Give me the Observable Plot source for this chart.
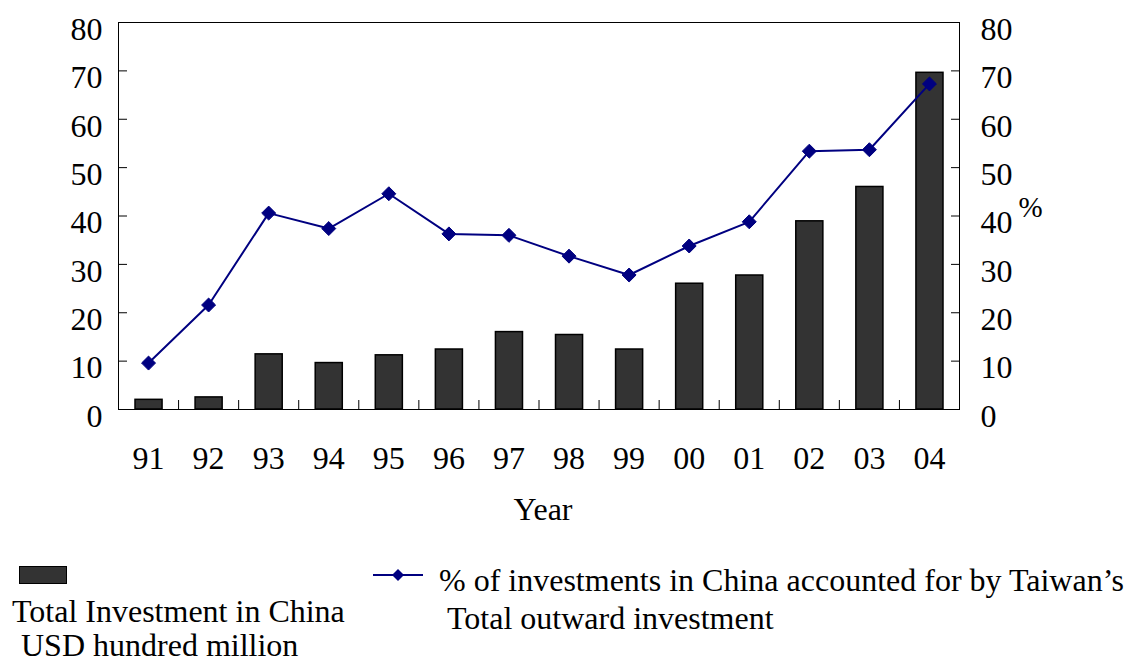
<!DOCTYPE html>
<html>
<head>
<meta charset="utf-8">
<script src="https://cdn.jsdelivr.net/npm/d3@7"></script>
<script src="https://cdn.jsdelivr.net/npm/@observablehq/plot@0.6"></script>
<style>
  html, body { margin: 0; padding: 0; background: #fff; }
  #wrap { position: relative; width: 1139px; height: 666px; font-family: "Liberation Serif", "Times New Roman", serif; color: #000; overflow: hidden; }
  .lg { position: absolute; font-size: 32px; line-height: 28px; white-space: nowrap; }
</style>
</head>
<body>
<div id="wrap"></div>
<script>
const years = ["91","92","93","94","95","96","97","98","99","00","01","02","03","04"];
const invest = [2.0, 2.5, 11.4, 9.6, 11.2, 12.4, 16.0, 15.4, 12.4, 26.0, 27.7, 38.9, 46.0, 69.6];
const pct = [9.6, 21.6, 40.6, 37.4, 44.6, 36.3, 36.0, 31.7, 27.8, 33.8, 38.8, 53.4, 53.7, 67.3];
const yTickLabels = [0, 10, 20, 30, 40, 50, 60, 70, 80];
const yTickMarks = [10, 20, 30, 40, 50, 60, 70];
const legendBar = ["Total Investment in China", "USD hundred million"];
const legendLine = ["% of investments in China accounted for by Taiwan\u2019s", "Total outward investment"];

const data = years.map((y, i) => ({i, year: y, invest: invest[i], pct: pct[i]}));
const navy = "#000080";

const chart = Plot.plot({
  width: 1139,
  height: 540,
  marginLeft: 118,
  marginRight: 180,
  marginTop: 22,
  marginBottom: 131,
  x: {type: "linear", domain: [-0.5, years.length - 0.5], axis: null},
  y: {domain: [0, 80], axis: null, label: null},
  style: {fontFamily: "'Liberation Serif', 'Times New Roman', serif", fontSize: "32px", color: "black", background: "white"},
  marks: [
    Plot.rectY(data, {x1: d => d.i - 0.5, x2: d => d.i + 0.5, y: "invest", insetLeft: 17, insetRight: 16,
      fill: "#333333", stroke: "black", strokeWidth: 1.5}),
    Plot.line(data, {x: "i", y: "pct", stroke: navy, strokeWidth: 2}),
    Plot.dot(data, {x: "i", y: "pct", symbol: "diamond2", r: 6.3, fill: navy, stroke: navy, strokeWidth: 1}),
    Plot.frame({stroke: "black", strokeWidth: 1}),
    // inner tick marks
    Plot.axisY(yTickMarks, {anchor: "left", tickSize: 9, insetLeft: 9, tickFormat: () => "", label: null}),
    Plot.axisY(yTickMarks, {anchor: "right", tickSize: 9, insetRight: 9, tickFormat: () => "", label: null}),
    Plot.axisX(d3.range(years.length - 1).map(i => i + 0.5), {anchor: "bottom", tickSize: 9, insetBottom: 9, tickFormat: () => "", label: null}),
    // tick labels
    Plot.axisY(yTickLabels, {anchor: "left", tickSize: 0, tickPadding: 16, dy: 7, label: null}),
    Plot.axisY(yTickLabels, {anchor: "right", tickSize: 0, tickPadding: 21, dy: 7, label: null}),
    Plot.axisX(d3.range(years.length), {anchor: "bottom", tickSize: 0, tickPadding: 37, tickFormat: i => years[i], label: null}),
    // axis titles
    Plot.text(["Year"], {frameAnchor: "bottom", dy: 110, dx: 4, text: d => d, fontSize: 32}),
    Plot.text(["%"], {frameAnchor: "right", dx: 71, dy: -8, text: d => d, fontSize: 29, textAnchor: "middle"})
  ]
});

const wrap = document.getElementById("wrap");
chart.style.position = "absolute";
chart.style.left = "0px";
chart.style.top = "0px";
wrap.appendChild(chart);

// Legend (below the SVG)
const lg = d3.select(wrap);
lg.append("div").style("position", "absolute").style("left", "19px").style("top", "566px")
  .style("width", "48px").style("height", "18px").style("box-sizing", "border-box")
  .style("background", "#333333").style("border", "1.5px solid black");
lg.append("div").attr("class", "lg").style("left", "12px").style("top", "597px").text(legendBar[0]);
lg.append("div").attr("class", "lg").style("left", "21px").style("top", "631px").text(legendBar[1]);

const sw = lg.append("svg").style("position", "absolute").style("left", "368px").style("top", "563px")
  .attr("width", 60).attr("height", 24);
sw.append("line").attr("x1", 5).attr("x2", 55).attr("y1", 12).attr("y2", 12).attr("stroke", navy).attr("stroke-width", 2);
sw.append("path").attr("d", d3.symbol(d3.symbolDiamond2, Math.PI * 5.4 * 5.4)()).attr("transform", "translate(30,12)").attr("fill", navy);
lg.append("div").attr("class", "lg").style("left", "439px").style("top", "566px").text(legendLine[0]);
lg.append("div").attr("class", "lg").style("left", "447px").style("top", "604px").text(legendLine[1]);
</script>
</body>
</html>
